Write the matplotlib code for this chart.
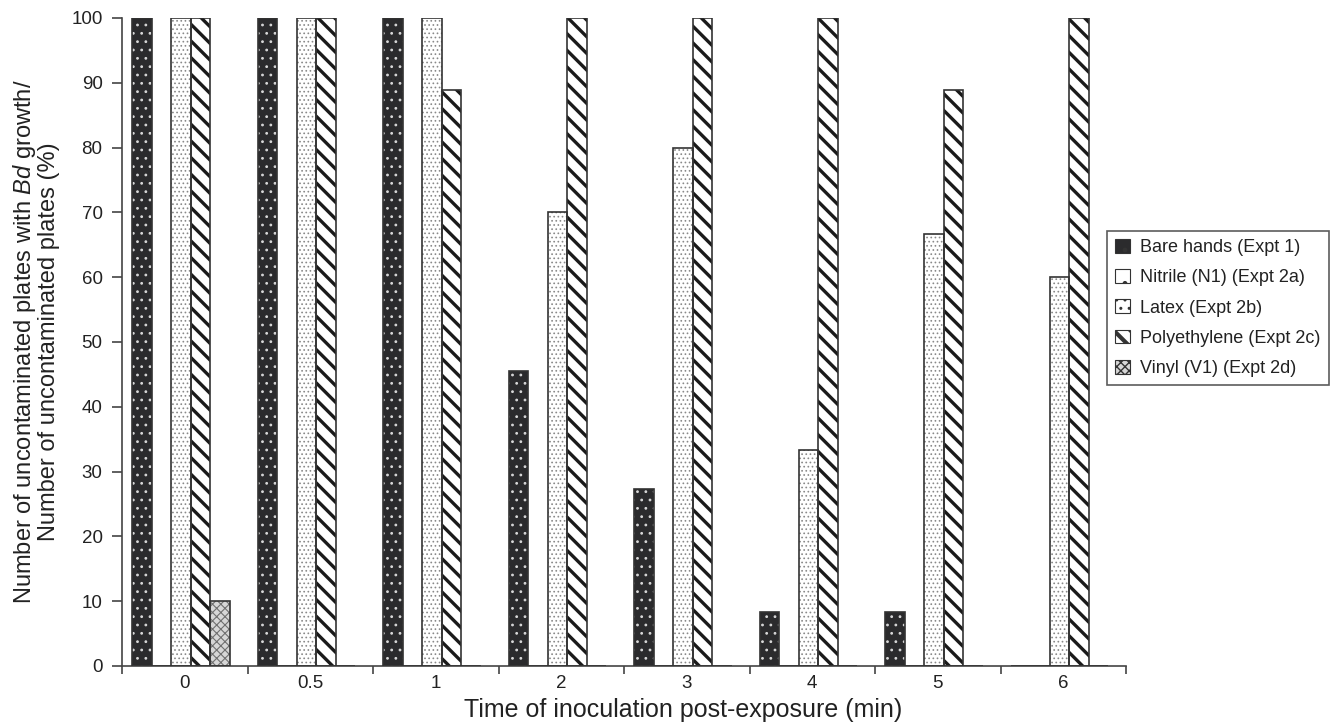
import matplotlib
matplotlib.use("Agg")
import matplotlib.pyplot as plt
import numpy as np
from matplotlib.patches import Patch

plt.rcParams['font.family'] = ['Liberation Sans', 'DejaVu Sans']
plt.rcParams['mathtext.fontset'] = 'custom'
plt.rcParams['mathtext.it'] = 'Liberation Sans:italic'
plt.rcParams['mathtext.rm'] = 'Liberation Sans'

categories = ['0', '0.5', '1', '2', '3', '4', '5', '6']
series_names = ['Bare hands (Expt 1)', 'Nitrile (N1) (Expt 2a)', 'Latex (Expt 2b)',
                'Polyethylene (Expt 2c)', 'Vinyl (V1) (Expt 2d)']
bare = [100, 100, 100, 45.5, 27.3, 8.3, 8.3, 0]
nitrile = [0, 0, 0, 0, 0, 0, 0, 0]
latex = [100, 100, 100, 70, 80, 33.3, 66.7, 60]
poly = [100, 100, 88.9, 100, 100, 100, 88.9, 100]
vinyl = [10, 0, 0, 0, 0, 0, 0, 0]

values = [bare, nitrile, latex, poly, vinyl]
# (face, hatch, hatch color, hatch linewidth, legend hatch)
styles = [
    ('#2b2b2d', '..', '#d8d8d8', 0.8, '.'),
    ('white', '.', '#aaaaaa', 0.6, '.'),
    ('white', '....', '#8a8a8a', 0.7, '..'),
    ('white', '\\\\', '#1a1a1a', 2.4, '\\\\'),
    ('#d6d6d6', 'xxxx', '#707070', 0.8, 'xxxx'),
]

L, R, B, T = 122, 1126, 666, 18
fig = plt.figure(figsize=(13.36, 7.25), dpi=100)
ax = fig.add_axes([L/1336, 1-B/725, (R-L)/1336, (B-T)/725])

x = np.arange(len(categories))
w = 0.155
handles = []
for i, (vals, (fc, h, hc, hl, lh)) in enumerate(zip(values, styles)):
    pos = x + (i - 2) * w - 0.03
    plt.rcParams['hatch.linewidth'] = hl
    ax.bar(pos, vals, w, color=fc, edgecolor=hc, hatch=h, linewidth=0, zorder=2)
    ax.bar(pos, vals, w, fill=False, edgecolor='#333333', linewidth=1.2, zorder=3)
    handles.append(Patch(facecolor=fc, edgecolor='#333333', hatch=lh,
                         linewidth=0.8, label=series_names[i]))
plt.rcParams['hatch.linewidth'] = 1.0

ax.set_xlim(-0.5, len(categories) - 0.5)
ax.set_ylim(0, 100)
ax.set_yticks(np.arange(0, 101, 10))
ax.set_xticks(x)
ax.set_xticklabels(categories)
ax.set_xticks(np.arange(-0.5, len(categories), 1.0), minor=True)
ax.tick_params(axis='x', which='major', length=0, labelsize=13.5, pad=6.5, colors='#222222')
ax.tick_params(axis='x', which='minor', length=6, direction='out', width=1.2, color='#444444')
ax.tick_params(axis='y', length=7, direction='out', width=1.2, labelsize=13.5, color='#444444',
               labelcolor='#222222', pad=7)
for s in ['top', 'right']:
    ax.spines[s].set_visible(False)
for s in ['left', 'bottom']:
    ax.spines[s].set_linewidth(1.2)
    ax.spines[s].set_color('#444444')

ax.set_xlabel('Time of inoculation post-exposure (min)', fontsize=18, color='#222222')
ax.xaxis.set_label_coords((683 - L) / (R - L), -(698 - B) / (B - T))
ax.set_ylabel('Number of uncontaminated plates with $\\it{Bd}$ growth/\nNumber of uncontaminated plates (%)',
              fontsize=17, linespacing=1.0, color='#222222', va='center')
ax.yaxis.set_label_coords(-(L - 36) / (R - L), 0.5)

leg = fig.legend(handles=handles, loc='upper left',
                 bbox_to_anchor=(1107/1336, 1-231/725), fontsize=13,
                 frameon=True, fancybox=False, edgecolor='#333333',
                 handlelength=0.8, handleheight=0.8, handletextpad=0.6,
                 labelspacing=0.72, borderpad=0.45, borderaxespad=0)
leg.get_frame().set_linewidth(1.2)
for t in leg.get_texts():
    t.set_color('#222222')
try:
    lp = leg.get_patches()
    lp[3].set_hatch_linewidth(3.0)
    lp[0].set_hatch_linewidth(1.0)
except Exception:
    pass

fig.savefig('out.png', dpi=100)
